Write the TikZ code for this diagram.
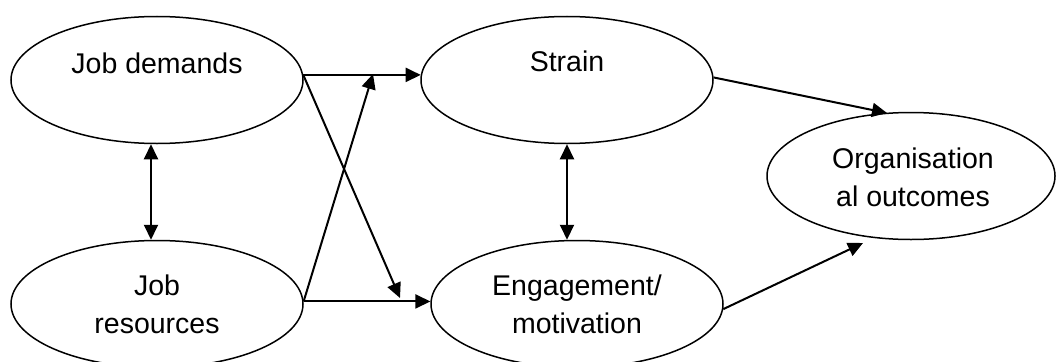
\documentclass[tikz,border=0pt]{standalone}
\usepackage{fontspec}
\setmainfont{Liberation Sans}
\usetikzlibrary{arrows.meta,shapes.geometric}
\begin{document}
\begin{tikzpicture}[x=1pt,y=-1pt,
  ell/.style={draw,ellipse,line width=1.5pt,inner sep=0pt,minimum width=292pt,minimum height=127pt},
  lbl/.style={inner sep=0pt,align=center,font=\fontsize{28.5}{37.5}\selectfont},
  arr/.style={line width=2pt,-{Triangle[length=15pt,width=14pt]}},
  darr/.style={line width=2pt,{Triangle[length=15pt,width=14pt]}-{Triangle[length=15pt,width=14pt]}}]
\useasboundingbox (0,0) rectangle (1056,361);
\node[ell] (jd) at (157,80) {};
\node[ell] (jr) at (157,304) {};
\node[ell] (st) at (567,80) {};
\node[ell] (en) at (577,304) {};
\node[ell,minimum width=288pt] (org) at (911,176) {};
\node[lbl,anchor=base] (jdt) at (157,73) {Job demands};
\node[lbl,anchor=base] (jrt) at (157,333) {Job\\resources};
\node[lbl,anchor=base] (stt) at (567,71) {Strain};
\node[lbl,anchor=base] (ent) at (577,333) {Engagement/\\motivation};
\node[lbl,anchor=base] (orgt) at (913,206) {Organisation\\al outcomes};
\coordinate (t1) at (400,298);
\coordinate (t2) at (373,74);
\coordinate (t3) at (887,113);
\coordinate (t4) at (863,243);
\draw[arr] (jd.2) -- (st.178);
\draw[arr] (jr.1) -- (en.179);
\draw[arr] (jd.2) -- (t1);
\draw[arr] (jr.1) -- (t2);
\draw[arr] (st.1) -- (t3);
\draw[arr] (en.-2.5) -- (t4);
\draw[darr] ([xshift=-6pt]jd.south) -- ([xshift=-6pt]jr.north);
\draw[darr] (st.south) -- (st.south |- en.north);
\end{tikzpicture}
\end{document}
